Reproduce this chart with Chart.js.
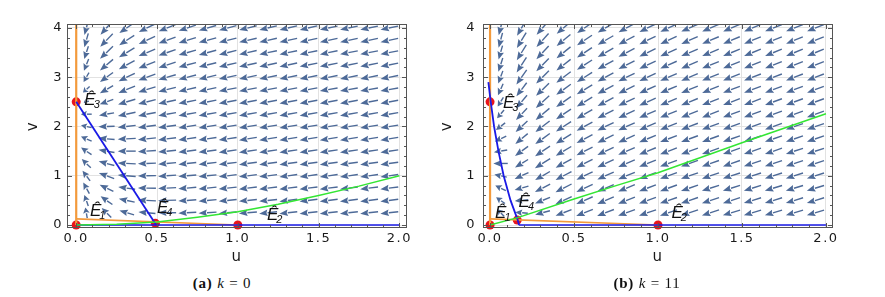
<!DOCTYPE html>
<html>
<head>
<meta charset="utf-8">
<script src="https://cdn.jsdelivr.net/npm/chart.js@4.4.1/dist/chart.umd.min.js"></script>
<style>
body { margin: 0; background: #fff; width: 885px; height: 297px; position: relative; overflow: hidden; }
.box { position: absolute; top: 0; height: 270px; }
#boxA { left: 0; width: 440px; }
#boxB { left: 420px; width: 465px; }
.cap { position: absolute; top: 275px; width: 200px; text-align: center; font-family: "Liberation Serif", serif; font-size: 15px; letter-spacing: 0.8px; color: #111; }
</style>
</head>
<body>
<div class="box" id="boxA"><canvas id="chartA" width="440" height="270"></canvas></div>
<div class="box" id="boxB"><canvas id="chartB" width="465" height="270"></canvas></div>
<div class="cap" style="left:122px"><b>(a)</b> <i>k</i> = 0</div>
<div class="cap" style="left:547px"><b>(b)</b> <i>k</i> = 11</div>
<script>
// 축 눈금
const uTicks = [0, 0.5, 1, 1.5, 2];
const vTicks = [0, 1, 2, 3, 4];
const uMinor = [0.1, 0.2, 0.3, 0.4, 0.6, 0.7, 0.8, 0.9, 1.1, 1.2, 1.3, 1.4, 1.6, 1.7, 1.8, 1.9];
const vMinor = [0.2, 0.4, 0.6, 0.8, 1.2, 1.4, 1.6, 1.8, 2.2, 2.4, 2.6, 2.8, 3.2, 3.4, 3.6, 3.8];

// 화살표 격자 (위 행부터)
const arrowU = [0.0625, 0.1875, 0.3125, 0.4375, 0.5625, 0.6875, 0.8125, 0.9375, 1.0625, 1.1875, 1.3125, 1.4375, 1.5625, 1.6875, 1.8125, 1.9375];
const arrowV = [4, 3.75, 3.5, 3.25, 3, 2.75, 2.5, 2.25, 2, 1.75, 1.5, 1.25, 1, 0.75, 0.5, 0.25];

// (a) k = 0 화살표 방향 (도)
const dirA = [
  [255,228,215,206,201,198,196,195,194,193,193,193,192,192,192,192],
  [254,226,213,205,200,197,195,194,193,193,192,192,192,192,192,192],
  [252,224,211,203,199,196,195,194,193,192,192,192,192,191,191,191],
  [248,220,209,202,198,195,194,193,192,192,192,191,191,191,191,191],
  [240,216,206,200,196,194,193,192,192,191,191,191,191,191,191,191],
  [222,210,202,197,194,193,192,191,191,191,191,191,190,190,190,190],
  [195,200,197,194,192,191,191,190,190,190,190,190,190,190,190,190],
  [180,190,192,191,190,190,190,190,190,190,190,190,190,190,190,190],
  [168,182,187,188,188,189,189,189,189,189,189,189,189,189,189,189],
  [156,175,183,186,187,188,188,188,189,189,189,189,189,189,189,189],
  [146,170,180,184,186,187,187,188,188,188,188,188,188,188,188,188],
  [136,165,177,182,185,186,187,187,188,188,188,188,188,188,188,188],
  [127,160,175,181,184,185,186,187,187,187,188,188,188,188,188,188],
  [119,154,172,179,183,185,186,186,187,187,187,187,187,187,187,187],
  [110,145,168,177,182,184,185,186,186,186,187,187,187,187,187,187],
  [100,135,164,175,180,183,184,185,185,186,186,186,186,186,186,186]
];
const lenA = [
  [0.8,1,1,1,1,1,1,1,1,1,1,1,1,1,1,1],
  [0.8,1,1,1,1,1,1,1,1,1,1,1,1,1,1,1],
  [0.75,1,1,1,1,1,1,1,1,1,1,1,1,1,1,1],
  [0.7,0.95,1,1,1,1,1,1,1,1,1,1,1,1,1,1],
  [0.6,0.9,1,1,1,1,1,1,1,1,1,1,1,1,1,1],
  [0.5,0.85,1,1,1,1,1,1,1,1,1,1,1,1,1,1],
  [0.3,0.8,1,1,1,1,1,1,1,1,1,1,1,1,1,1],
  [0.6,0.85,1,1,1,1,1,1,1,1,1,1,1,1,1,1],
  [0.6,0.9,1,1,1,1,1,1,1,1,1,1,1,1,1,1],
  [0.65,0.9,1,1,1,1,1,1,1,1,1,1,1,1,1,1],
  [0.7,0.9,1,1,1,1,1,1,1,1,1,1,1,1,1,1],
  [0.7,0.9,1,1,1,1,1,1,1,1,1,1,1,1,1,1],
  [0.7,0.9,1,1,1,1,1,1,1,1,1,1,1,1,1,1],
  [0.7,0.85,0.95,1,1,1,1,1,1,1,1,1,1,1,1,1],
  [0.65,0.8,0.9,1,1,1,1,1,1,1,1,1,1,1,1,1],
  [0.6,0.75,0.85,0.95,1,1,1,1,1,1,1,1,1,1,1,1]
];

// (b) k = 11 화살표 방향 (도)
const dirB = [
  [256,240,229,221,215,211,208,206,205,204,203,203,203,202,202,202],
  [255,239,228,220,214,210,208,206,205,204,203,203,202,202,202,202],
  [254,238,227,219,214,210,207,206,204,203,203,202,202,202,202,202],
  [252,237,226,218,213,209,207,205,204,203,202,202,202,202,201,201],
  [250,235,225,217,212,209,206,205,203,203,202,202,201,201,201,201],
  [246,233,224,216,211,208,206,204,203,202,202,201,201,201,201,201],
  [238,230,222,215,211,208,205,204,203,202,201,201,201,200,200,200],
  [230,227,220,214,210,207,205,203,202,201,201,200,200,200,200,200],
  [218,223,218,213,209,206,204,203,202,201,200,200,200,200,199,199],
  [205,220,216,212,208,206,204,202,201,200,200,199,199,199,199,199],
  [190,216,214,211,207,205,203,202,201,200,199,199,199,199,198,198],
  [180,211,212,209,207,205,203,202,200,200,199,199,198,198,198,198],
  [168,205,210,208,206,204,202,201,200,199,199,198,198,198,198,198],
  [155,196,207,207,205,203,202,201,200,199,198,198,198,197,197,197],
  [145,186,202,205,204,203,201,200,199,199,198,198,197,197,197,197],
  [135,175,195,201,202,201,200,199,199,198,198,197,197,197,197,197]
];
const lenB = [
  [0.85,1,1,1,1,1,1,1,1,1,1,1,1,1,1,1],
  [0.85,1,1,1,1,1,1,1,1,1,1,1,1,1,1,1],
  [0.8,1,1,1,1,1,1,1,1,1,1,1,1,1,1,1],
  [0.8,1,1,1,1,1,1,1,1,1,1,1,1,1,1,1],
  [0.75,1,1,1,1,1,1,1,1,1,1,1,1,1,1,1],
  [0.7,0.95,1,1,1,1,1,1,1,1,1,1,1,1,1,1],
  [0.6,0.95,1,1,1,1,1,1,1,1,1,1,1,1,1,1],
  [0.6,0.9,1,1,1,1,1,1,1,1,1,1,1,1,1,1],
  [0.65,0.9,1,1,1,1,1,1,1,1,1,1,1,1,1,1],
  [0.7,0.9,1,1,1,1,1,1,1,1,1,1,1,1,1,1],
  [0.75,0.9,1,1,1,1,1,1,1,1,1,1,1,1,1,1],
  [0.8,0.85,1,1,1,1,1,1,1,1,1,1,1,1,1,1],
  [0.7,0.85,0.95,1,1,1,1,1,1,1,1,1,1,1,1,1],
  [0.65,0.8,0.95,1,1,1,1,1,1,1,1,1,1,1,1,1],
  [0.6,0.75,0.9,1,1,1,1,1,1,1,1,1,1,1,1,1],
  [0.55,0.7,0.85,0.95,1,1,1,1,1,1,1,1,1,1,1,1]
];

// 등고선 (nullcline) 좌표
const orangeAxisU = [0, 0];
const orangeAxisV = [0, 4.1];
const orangeLineU = [0, 1];
const orangeLineV = [0.125, 0];

const blueLineU_A = [0, 0.495];
const blueLineV_A = [2.5, 0];
const blueAxisU_A = [0, 2];
const blueAxisV_A = [0, 0];
const greenU_A = [0, 0.25, 0.5, 0.75, 1, 1.25, 1.5, 1.75, 2];
const greenV_A = [0, 0.015, 0.06, 0.16, 0.27, 0.42, 0.6, 0.79, 1.0];

const blueLineU_B = [-0.01, 0.004, 0.024, 0.05, 0.081, 0.122, 0.165, 0.172];
const blueLineV_B = [2.9, 2.5, 2.0, 1.5, 1.0, 0.5, 0.1, 0];
const blueAxisU_B = [0.172, 2];
const blueAxisV_B = [0, 0];
const greenU_B = [0, 0.165, 0.5, 0.76, 1, 1.5, 2];
const greenV_B = [0, 0.15, 0.53, 0.81, 1.06, 1.67, 2.26];

// 평형점
const eqNames = ['1', '2', '3', '4'];
const eqU_A = [0, 1, 0, 0.49];
const eqV_A = [0, 0, 2.5, 0.035];
const eqU_B = [0, 1, 0, 0.162];
const eqV_B = [0, 0, 2.5, 0.1];
// 라벨 위치 (u, v)
const labU_A = [0.085, 1.18, 0.05, 0.5];
const labV_A = [0.18, 0.1, 2.44, 0.24];
const labU_B = [0.03, 1.08, 0.077, 0.17];
const labV_B = [0.14, 0.14, 2.38, 0.37];

const arrowColor = '#4d6a98';

function pts(us, vs) {
    return us.map((u, i) => ({ x: u, y: vs[i] }));
}

// 벡터장 화살표 그리기
const arrowPlugin = {
    id: 'arrows',
    beforeDatasetsDraw(chart, args, opts) {
        const { ctx, chartArea, scales: { x, y } } = chart;
        ctx.save();
        ctx.beginPath();
        ctx.rect(chartArea.left, chartArea.top, chartArea.right - chartArea.left, chartArea.bottom - chartArea.top);
        ctx.clip();
        ctx.fillStyle = arrowColor;
        ctx.strokeStyle = arrowColor;
        ctx.lineWidth = 1.4;
        arrowV.forEach((v, r) => {
            arrowU.forEach((u, c) => {
                const px = x.getPixelForValue(u);
                const py = y.getPixelForValue(v);
                const a = opts.dirs[r][c] * Math.PI / 180;
                const L = 18 * opts.lens[r][c];
                const dx = Math.cos(a), dy = -Math.sin(a);
                const tx = px - dx * L / 2, ty = py - dy * L / 2;
                const hx = px + dx * L / 2, hy = py + dy * L / 2;
                const hl = Math.min(8.5, L * 0.55), hw = 3.3;
                const bx = hx - dx * hl, by = hy - dy * hl;
                ctx.beginPath();
                ctx.moveTo(tx, ty);
                ctx.lineTo(bx, by);
                ctx.stroke();
                ctx.beginPath();
                ctx.moveTo(hx, hy);
                ctx.lineTo(bx - dy * hw, by + dx * hw);
                ctx.lineTo(bx + dx * 1.2, by + dy * 1.2);
                ctx.lineTo(bx + dy * hw, by - dx * hw);
                ctx.closePath();
                ctx.fill();
            });
        });
        ctx.restore();
    }
};

// 프레임, 안쪽 눈금, 평형점 라벨
const framePlugin = {
    id: 'frame',
    beforeDraw(chart) {
        chart.ctx.letterSpacing = '1.5px';
    },
    afterDraw(chart, args, opts) {
        const { ctx, chartArea: ca, scales: { x, y } } = chart;
        ctx.save();
        ctx.letterSpacing = '0px';
        ctx.fillStyle = '#111';
        opts.labU.forEach((u, i) => {
            const px = x.getPixelForValue(u), py = y.getPixelForValue(opts.labV[i]);
            ctx.font = 'italic 17px "Liberation Sans"';
            ctx.fillText('\u00CA', px, py);
            const w = ctx.measureText('\u00CA').width;
            ctx.font = 'italic 11px "Liberation Sans"';
            ctx.fillText(eqNames[i], px + w - 2, py + 3);
        });
        ctx.strokeStyle = '#555';
        ctx.lineWidth = 1;
        ctx.strokeRect(ca.left + 0.5, ca.top + 0.5, ca.right - ca.left - 1, ca.bottom - ca.top - 1);
        ctx.beginPath();
        const tick = (vals, len, horiz) => {
            vals.forEach(val => {
                if (horiz) {
                    const p = Math.round(x.getPixelForValue(val)) + 0.5;
                    ctx.moveTo(p, ca.bottom); ctx.lineTo(p, ca.bottom - len);
                    ctx.moveTo(p, ca.top); ctx.lineTo(p, ca.top + len);
                } else {
                    const p = Math.round(y.getPixelForValue(val)) + 0.5;
                    ctx.moveTo(ca.left, p); ctx.lineTo(ca.left + len, p);
                    ctx.moveTo(ca.right, p); ctx.lineTo(ca.right - len, p);
                }
            });
        };
        tick(uTicks, 5, true);
        tick(uMinor, 3, true);
        tick(vTicks, 5, false);
        tick(vMinor, 3, false);
        ctx.stroke();
        ctx.restore();
    }
};

function makeChart(id, cfg) {
    const ctx = document.getElementById(id).getContext('2d');
    const lineDs = (us, vs, color, w) => ({
        data: pts(us, vs), showLine: true, borderColor: color, borderWidth: w,
        pointRadius: 0, fill: false, tension: 0
    });
    return new Chart(ctx, {
        type: 'scatter',
        data: {
            datasets: [
                lineDs(cfg.greenU, cfg.greenV, '#33e633', 1.5),
                lineDs(cfg.blueAxisU, cfg.blueAxisV, '#1a1ae6', 1.5),
                lineDs(cfg.blueLineU, cfg.blueLineV, '#1a1ae6', 1.8),
                lineDs(orangeAxisU, orangeAxisV, '#f39a3c', 2.2),
                lineDs(orangeLineU, orangeLineV, '#f39a3c', 1.6),
                {
                    data: pts(cfg.eqU, cfg.eqV), pointRadius: 4.5, pointBackgroundColor: '#e8141c',
                    pointBorderWidth: 0, showLine: false, clip: false
                }
            ]
        },
        plugins: [arrowPlugin, framePlugin],
        options: {
            responsive: false,
            animation: false,
            events: [],
            layout: { padding: { top: 24, right: cfg.padRight, left: 0, bottom: 0 } },
            plugins: {
                legend: { display: false },
                tooltip: { enabled: false },
                arrows: { dirs: cfg.dirs, lens: cfg.lens },
                frame: { labU: cfg.labU, labV: cfg.labV }
            },
            scales: {
                x: {
                    type: 'linear', min: cfg.uMin, max: cfg.uMax,
                    afterBuildTicks: s => { s.ticks = uTicks.map(v => ({ value: v })); },
                    afterFit: s => { s.height = 42; },
                    ticks: {
                        callback: v => v.toFixed(1), color: '#1a1a1a', padding: 3,
                        maxRotation: 0, autoSkip: false,
                        font: { family: 'DejaVu Sans', size: 13 }
                    },
                    grid: { color: '#e2e2e2', drawTicks: false },
                    border: { display: false },
                    title: {
                        display: true, text: 'u', color: '#1a1a1a',
                        font: { family: 'DejaVu Sans', size: 15 }, padding: { top: 0, bottom: 4 }
                    }
                },
                y: {
                    type: 'linear', min: -0.06, max: 4.08,
                    afterBuildTicks: s => { s.ticks = vTicks.map(v => ({ value: v })); },
                    afterFit: s => { s.width = cfg.yWidth; },
                    ticks: {
                        callback: v => String(v), color: '#1a1a1a', padding: cfg.yPad,
                        font: { family: 'DejaVu Sans', size: 13 }
                    },
                    grid: { color: '#e2e2e2', drawTicks: false },
                    border: { display: false },
                    title: {
                        display: true, text: 'v', color: '#1a1a1a',
                        font: { family: 'DejaVu Sans', size: 15 }, padding: { top: cfg.titlePad, bottom: 0 }
                    }
                }
            }
        }
    });
}

makeChart('chartA', {
    uMin: -0.057, uMax: 2.047, padRight: 33, yWidth: 67, yPad: 4, titlePad: 24,
    dirs: dirA, lens: lenA,
    greenU: greenU_A, greenV: greenV_A,
    blueAxisU: blueAxisU_A, blueAxisV: blueAxisV_A,
    blueLineU: blueLineU_A, blueLineV: blueLineV_A,
    eqU: eqU_A, eqV: eqV_A, labU: labU_A, labV: labV_A
});

makeChart('chartB', {
    uMin: -0.042, uMax: 2.042, padRight: 52, yWidth: 63, yPad: 7, titlePad: 18,
    dirs: dirB, lens: lenB,
    greenU: greenU_B, greenV: greenV_B,
    blueAxisU: blueAxisU_B, blueAxisV: blueAxisV_B,
    blueLineU: blueLineU_B, blueLineV: blueLineV_B,
    eqU: eqU_B, eqV: eqV_B, labU: labU_B, labV: labV_B
});
</script>
</body>
</html>
